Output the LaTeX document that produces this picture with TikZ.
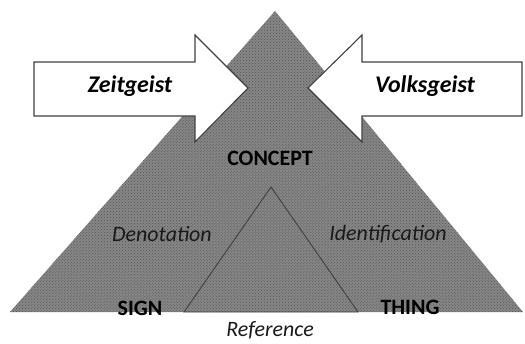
\documentclass[tikz,border=0pt]{standalone}
\usepackage{fontspec}
\setmainfont{Carlito}
\usetikzlibrary{patterns}
\definecolor{tri}{RGB}{135,135,135}
\definecolor{dotc}{RGB}{80,80,80}
\tikzset{
  trifill/.style={fill=tri, postaction={pattern=crosshatch dots, pattern color=dotc}},
  bigarrow/.style={fill=white, draw=black!75, line width=1.1pt, line join=miter},
  vertex/.style={font=\bfseries\fontsize{22}{24}\selectfont, text=black, inner sep=0pt},
  relation/.style={font=\itshape\fontsize{22}{24}\selectfont, text=black!90, inner sep=0pt},
  geist/.style={font=\bfseries\itshape\fontsize{24}{26}\selectfont, inner sep=0pt}
}
\begin{document}
\begin{tikzpicture}[x=1bp,y=-1bp]
\useasboundingbox (0,0) rectangle (525,343);
% big triangle
\path[trifill] (275,11) -- (523,312) -- (10,312) -- cycle;
% inner triangle
\draw[draw=black!75, line width=0.9pt, line join=miter] (271,187) -- (358,312) -- (184,312) -- cycle;
% left arrow
\draw[bigarrow] (34,62) -- (195,62) -- (195,35) -- (248,88) -- (195,142) -- (195,116) -- (34,116) -- cycle;
% right arrow
\draw[bigarrow] (522,62) -- (362,62) -- (362,35) -- (308,88) -- (362,142) -- (362,116) -- (522,116) -- cycle;
\node[geist] (zeit) at (130,86) {Zeitgeist};
\node[geist] (volk) at (425,86) {Volksgeist};
\node[vertex] (concept) at (270,158) {CONCEPT};
\node[vertex] (sign) at (140,308) {SIGN};
\node[vertex] (thing) at (410,307) {THING};
\node[relation] (deno) at (162,234) {Denotation};
\node[relation] (iden) at (388,234) {Identification};
\node[relation] (refe) at (270,330) {Reference};
\end{tikzpicture}
\end{document}
